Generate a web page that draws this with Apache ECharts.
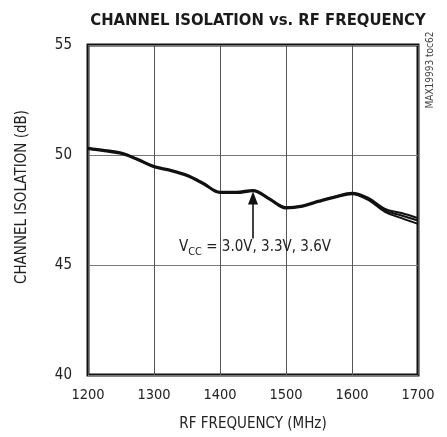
<!DOCTYPE html>
<html>
<head>
<meta charset="utf-8">
<script src="https://cdn.jsdelivr.net/npm/echarts@6/dist/echarts.min.js"></script>
<style>html,body{margin:0;padding:0;background:#fff;}#c{width:447px;height:437px;}</style>
</head>
<body>
<div id="c"></div>
<script>
const freq = [1200,1225,1250,1275,1300,1325,1350,1375,1400,1425,1450,1475,1500,1525,1550,1575,1600,1625,1650,1675,1700];
const iso30 = [50.33,50.23,50.11,49.83,49.50,49.33,49.10,48.73,48.33,48.33,48.41,48.03,47.63,47.71,47.93,48.13,48.28,48.05,47.55,47.36,47.13];
const iso33 = [50.30,50.20,50.08,49.80,49.47,49.30,49.07,48.70,48.30,48.30,48.38,48.00,47.60,47.68,47.90,48.10,48.25,48.00,47.48,47.25,47.02];
const iso36 = [50.27,50.17,50.05,49.77,49.44,49.27,49.04,48.67,48.27,48.27,48.35,47.97,47.57,47.65,47.87,48.07,48.22,47.95,47.41,47.13,46.87];
const xTicks = [1200,1300,1400,1500,1600,1700];
const yTicks = [40,45,50,55];
const arrowX = 1450, arrowFrom = 46.2, arrowTo = 48.05;
const noteX = 1453, noteY = 45.73;

const FONT = "'Liberation Sans Narrow','Arial Narrow','DejaVu Sans Condensed',sans-serif";
const chart = echarts.init(document.getElementById('c'), null, {renderer:'canvas'});
function mk(arr){ return freq.map((f,i)=>[f,arr[i]]); }
const lineStyle = {color:'#111', width:2};
const series = [
  {name:'3.0V', type:'line', data:mk(iso30), smooth:0.35, showSymbol:false, lineStyle, silent:true},
  {name:'3.3V', type:'line', data:mk(iso33), smooth:0.35, showSymbol:false, lineStyle, silent:true,
    markLine:{silent:true, symbol:['none','triangle'], symbolSize:[10,13],
      lineStyle:{color:'#111', width:1.6, type:'solid'}, label:{show:false},
      data:[[{coord:[arrowX, arrowFrom]},{coord:[arrowX, arrowTo]}]]},
    markPoint:{silent:true, symbol:'circle', symbolSize:0,
      label:{show:true, position:'inside', fontFamily:FONT, color:'#222',
        formatter:'{v|V}{s|CC}{v| = 3.0V, 3.3V, 3.6V}',
        rich:{v:{fontSize:15, fontFamily:FONT, color:'#222', padding:[0,0,3,0], verticalAlign:'bottom'},
              s:{fontSize:11, fontFamily:FONT, color:'#222', verticalAlign:'bottom'}}},
      data:[{coord:[noteX, noteY]}]}},
  {name:'3.6V', type:'line', data:mk(iso36), smooth:0.35, showSymbol:false, lineStyle, silent:true}
];
chart.setOption({
  animation:false,
  backgroundColor:'#fff',
  title:{text:'CHANNEL ISOLATION vs. RF FREQUENCY', left:253, textAlign:'center', top:7,
    textStyle:{fontFamily:FONT, fontSize:16.5, fontWeight:'bold', color:'#1a1a1a'}},
  grid:{left:88, right:29, top:45, bottom:62, show:true, borderColor:'#111', borderWidth:3, containLabel:false},
  xAxis:{type:'value', min:xTicks[0], max:xTicks[xTicks.length-1], interval:100,
    name:'RF FREQUENCY (MHz)', nameLocation:'middle', nameGap:42,
    nameTextStyle:{fontFamily:FONT, fontSize:15, color:'#222'},
    axisLine:{show:false}, axisTick:{show:false},
    axisLabel:{fontFamily:FONT, fontSize:14.5, color:'#222', margin:13, formatter:v=>String(v)},
    splitLine:{show:true, lineStyle:{color:'#555', width:1}}},
  yAxis:{type:'value', min:yTicks[0], max:yTicks[yTicks.length-1], interval:5,
    name:'CHANNEL ISOLATION (dB)', nameLocation:'middle', nameGap:58,
    nameTextStyle:{fontFamily:FONT, fontSize:15, color:'#222', padding:[0,0,0,26]},
    axisLine:{show:false}, axisTick:{show:false},
    axisLabel:{fontFamily:FONT, fontSize:15, color:'#222', margin:16, formatter:v=>String(v)},
    splitLine:{show:true, lineStyle:{color:'#777', width:1}}},
  graphic:[{type:'text', x:430, y:70, rotation:Math.PI/2,
    style:{text:'MAX19993 toc62', fontFamily:FONT, fontSize:10, fill:'#444', align:'center', verticalAlign:'middle'}}],
  series
});
</script>
</body>
</html>
